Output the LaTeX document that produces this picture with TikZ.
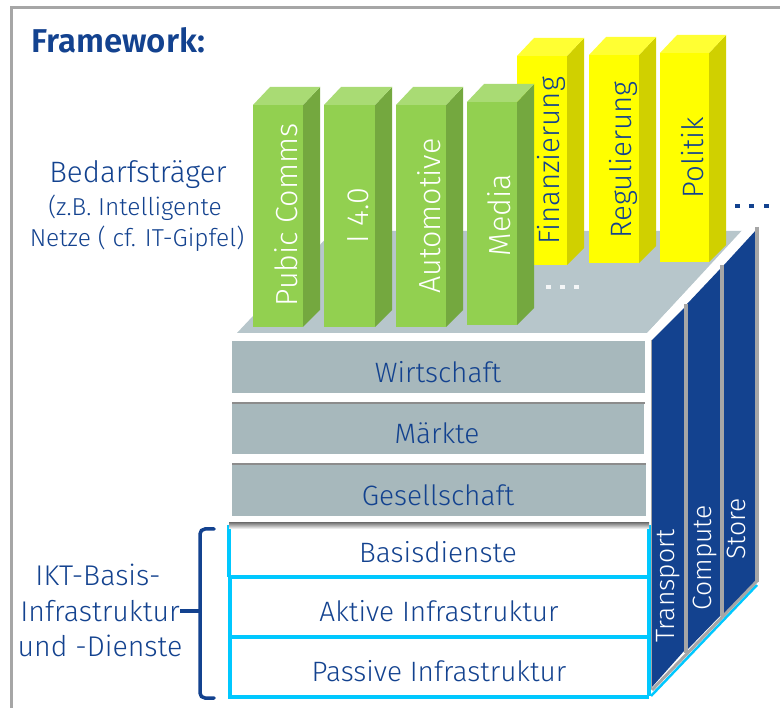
\documentclass[tikz,border=0pt]{standalone}
\usepackage{fontspec}
\setmainfont{Fira Sans Light}[BoldFont={Fira Sans SemiBold}]
\definecolor{navy}{HTML}{13428F}
\definecolor{frameg}{HTML}{A6A6A6}
\definecolor{cyanb}{HTML}{00C8FF}
\definecolor{layerg}{HTML}{A7B8BC}
\definecolor{platg}{HTML}{B7C6CB}
\definecolor{gfront}{HTML}{92D050}
\definecolor{gtop}{HTML}{A9DB74}
\definecolor{gside}{HTML}{74A83F}
\definecolor{yfront}{HTML}{FFFF00}
\definecolor{ytop}{HTML}{FFFF33}
\definecolor{yside}{HTML}{D0D000}
\newcommand\fsz[1]{\fontsize{#1}{#1}\selectfont}
% x-left, x-right, y-top, y-bottom, front, top, side
\newcommand\prism[7]{%
  \fill[#7] (#2,#3) -- ++(17,-18) -- (#2+17,#4-17) -- (#2,#4) -- cycle;
  \fill[#6] (#1,#3) -- ++(17,-18) -- (#2+17,#3-18) -- (#2,#3) -- cycle;
  \fill[#5] (#1,#3) rectangle (#2,#4);
}
\tikzset{
  x=1pt,y=-1pt,
  layerbox/.style={fill=layerg},
  shadowline/.style={draw=black!45,line width=1.5pt},
  cyanline/.style={draw=cyanb,line width=4pt},
  paneltxt/.style={text=white,rotate=90,font=\fsz{26.5}},
  greentxt/.style={text=white,rotate=90,font=\fsz{30.5}},
  yellowtxt/.style={text=navy,rotate=90,font=\fsz{29.5}},
  layertxt/.style={text=navy,font=\fsz{28}},
  sidetxt/.style={text=navy,font=\fsz{28.5},align=center},
  panel/.style={fill=navy},
  panelline/.style={draw=frameg,line width=4pt},
  dotsq/.style={minimum width=5pt,minimum height=3.5pt,inner sep=0pt},
}
\begin{document}
\begin{tikzpicture}
\useasboundingbox (0,0) rectangle (780,708);
\fill[white] (0,0) rectangle (780,708);
% frame
\draw[frameg,line width=3pt] (780,8) -- (11.5,8) -- (11.5,708);
% platform
\fill[platg] (237,333) -- (333,231) -- (743,231) -- (647,333) -- cycle;
% yellow bars
\prism{517}{567}{56}{265}{yfront}{ytop}{yside}
\prism{589}{639}{55}{263}{yfront}{ytop}{yside}
\prism{660}{709}{53}{262}{yfront}{ytop}{yside}
% green bars
\prism{253}{303}{105}{327}{gfront}{gtop}{gside}
\prism{324}{375}{105}{327}{gfront}{gtop}{gside}
\prism{396}{446}{105}{327}{gfront}{gtop}{gside}
\prism{467}{517}{102}{325}{gfront}{gtop}{gside}
% bar labels
\node[greentxt] (pc) at (286,215) {Pubic Comms};
\node[greentxt] (i4) at (358,216) {I 4.0};
\node[greentxt] (au) at (429,216) {Automotive};
\node[greentxt] (me) at (499,215) {Media};
\node[yellowtxt] (fi) at (551,161) {Finanzierung};
\node[yellowtxt] (re) at (623,160) {Regulierung};
\node[yellowtxt] (po) at (693,158) {Politik};
% dots
\foreach \n/\xx in {a/548,b/562,c/576}{\node[dotsq,fill=white!85!platg] (w\n) at (\xx,287) {};}
\foreach \n/\xx in {a/737,b/751,c/766}{\node[dotsq,fill=navy] (d\n) at (\xx,206) {};}
% grey layers
\draw[shadowline] (232,403) -- (645,403);
\draw[shadowline] (232,464) -- (646,464);
\fill[layerbox] (232,341) rectangle (645,393);
\fill[layerbox] (232,404) rectangle (644,454);
\fill[layerbox] (232,465) rectangle (646,516);
\node[layertxt] (wi) at (438,372) {Wirtschaft};
\node[layertxt] (ma) at (437,433) {Märkte};
\node[layertxt] (ge) at (438,495) {Gesellschaft};
% cyan boxes
\draw[cyanline] (229,525) -- (229,577);
\draw[cyanline] (649,525) -- (649,696);
\draw[cyanline] (230,577) -- (230,697) -- (649,697);
\draw[cyanline] (228,577) -- (649,577);
\draw[cyanline] (230,637) -- (649,637);
\shade[top color=black!50,bottom color=white] (229,523) rectangle (649,529);
\node[layertxt] (ba) at (438,552) {Basisdienste};
\node[layertxt] (ak) at (439,611) {Aktive Infrastruktur};
\node[layertxt] (pa) at (439,671) {Passive Infrastruktur};
% side panels
\draw[draw=cyanb,line width=2.5pt] (651,696) -- (757,585);
\draw[draw=white,line width=5pt] (648,336) -- (745,231);
\fill[panel] (652,340) -- (684,308) -- (684,651) -- (652,687) -- cycle;
\fill[panel] (687,304) -- (721,268) -- (721,615) -- (687,650) -- cycle;
\fill[panel] (724,265) -- (757,229) -- (757,580) -- (724,614) -- cycle;
\draw[draw=frameg,line width=1pt] (651.5,340) -- (651.5,689);
\draw[panelline] (685.7,304) -- (685.7,653);
\draw[panelline] (722.3,265) -- (722.3,616);
\draw[panelline] (756.5,227) -- (756.5,582);
\draw[draw=frameg,line width=3pt] (652,690) -- (757,581);
\node[paneltxt] (tr) at (668,586) {Transport};
\node[paneltxt] (co) at (705,558) {Compute};
\node[paneltxt] (st) at (736,529) {Store};
% text
\node[text=navy,font=\bfseries\fsz{33},anchor=west,inner sep=0pt] (fw) at (31,40) {Framework:};
\node[text=navy,font=\fsz{29.5}] (be) at (138,175) {Bedarfsträger};
\node[text=navy,font=\fsz{24.5}] (zb) at (135,208) {(z.B. Intelligente};
\node[text=navy,font=\fsz{24.5}] (ne) at (137,239) {Netze ( cf. IT-Gipfel)};
\node[sidetxt] (ik) at (98,575) {IKT-Basis-};
\node[sidetxt] (in) at (100,611) {Infrastruktur};
\node[sidetxt] (un) at (100,646) {und -Dienste};
% brace
\coordinate (bt) at (214,529);
\coordinate (bb) at (214,698);
\draw[navy,line width=3.5pt,line cap=round,rounded corners=5pt] (bt) -- (200,529) -- (200,698) -- (bb);
\draw[navy,line width=3.5pt] (in.east) ++(-3,0) -- (200,611);
\end{tikzpicture}
\end{document}
